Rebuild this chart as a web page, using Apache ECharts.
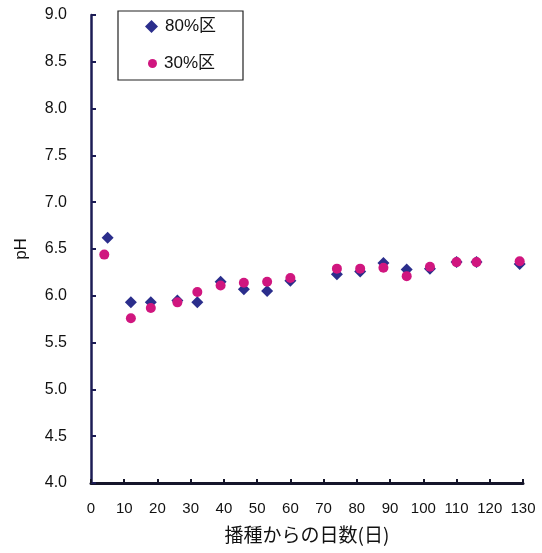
<!DOCTYPE html>
<html>
<head>
<meta charset="utf-8">
<script src="https://cdn.jsdelivr.net/npm/echarts@6/dist/echarts.min.js"></script>
<style>
html,body{margin:0;padding:0;background:#fff;}
#c{width:542px;height:553px;}
</style>
</head>
<body>
<div id="c"></div>
<script>
const days80 = [5, 12, 18, 26, 32, 39, 46, 53, 60, 74, 81, 88, 95, 102, 110, 116, 129];
const ph80   = [6.62, 5.93, 5.93, 5.95, 5.93, 6.15, 6.07, 6.05, 6.16, 6.23, 6.26, 6.35, 6.28, 6.29, 6.36, 6.36, 6.34];
const days30 = [4, 12, 18, 26, 32, 39, 46, 53, 60, 74, 81, 88, 95, 102, 110, 116, 129];
const ph30   = [6.44, 5.76, 5.87, 5.93, 6.04, 6.11, 6.14, 6.15, 6.19, 6.29, 6.29, 6.30, 6.21, 6.31, 6.36, 6.36, 6.37];
const xTicks = { min: 0, max: 130, interval: 10 };
const yTicks = { min: 4.0, max: 9.0, interval: 0.5 };
const seriesNames = ['80%区', '30%区'];
const xTitle = '播種からの日数(日)';
const yTitle = 'pH';

const pair = (xs, ys) => xs.map((x, i) => [x, ys[i]]);

const chart = echarts.init(document.getElementById('c'), null, {renderer: 'canvas'});
const font = '"Liberation Sans", Arial, sans-serif';
const legendText = {fontFamily: '"Liberation Sans","Noto Sans CJK JP", sans-serif', fontSize: 17, color: '#111'};
chart.setOption({
  animation: false,
  backgroundColor: '#ffffff',
  grid: {left: 91, right: 19, top: 15, bottom: 70, containLabel: false, outerBoundsMode: 'none'},
  graphic: [{
    type: 'rect', z: 1,
    shape: {x: 118, y: 11, width: 125, height: 69},
    style: {fill: 'none', stroke: '#222', lineWidth: 1.2}
  }],
  legend: [{
    left: 145, top: 18,
    padding: 0,
    itemWidth: 13, itemHeight: 13, itemGap: 5,
    textStyle: Object.assign({}, legendText, {padding: [0, 0, 0, 2]}),
    data: [{name: seriesNames[0], icon: 'diamond'}]
  }, {
    left: 148, top: 55,
    padding: 0,
    itemWidth: 9, itemHeight: 9, itemGap: 5,
    textStyle: Object.assign({}, legendText, {padding: [0, 0, 0, 2]}),
    data: [{name: seriesNames[1], icon: 'circle'}]
  }],
  xAxis: {
    type: 'value', min: xTicks.min, max: xTicks.max, interval: xTicks.interval,
    name: xTitle, nameLocation: 'middle', nameGap: 42,
    nameTextStyle: {fontFamily: '"Noto Sans CJK JP", sans-serif', fontSize: 19, color: '#111'},
    axisLine: {lineStyle: {color: '#15152a', width: 3}},
    axisTick: {inside: true, length: 4, lineStyle: {color: '#15152a', width: 2}},
    axisLabel: {fontFamily: font, fontSize: 15, color: '#111', margin: 18},
    splitLine: {show: false}
  },
  yAxis: {
    type: 'value', min: yTicks.min, max: yTicks.max, interval: yTicks.interval,
    name: yTitle, nameLocation: 'middle', nameGap: 61, nameRotate: 90,
    nameTextStyle: {fontFamily: font, fontSize: 17, color: '#111'},
    axisLine: {lineStyle: {color: '#1c1c55', width: 2.5}},
    axisTick: {inside: true, length: 5, lineStyle: {color: '#1c1c55', width: 2}},
    axisLabel: {fontFamily: font, fontSize: 16, color: '#111', margin: 24,
      formatter: v => v.toFixed(1)},
    splitLine: {show: false}
  },
  series: [
    {name: seriesNames[0], type: 'scatter', symbol: 'diamond', symbolSize: 12,
     itemStyle: {color: '#2b2e8c', opacity: 1}, data: pair(days80, ph80)},
    {name: seriesNames[1], type: 'scatter', symbol: 'circle', symbolSize: 10,
     itemStyle: {color: '#d0167f', opacity: 1}, data: pair(days30, ph30)}
  ]
});
</script>
</body>
</html>
